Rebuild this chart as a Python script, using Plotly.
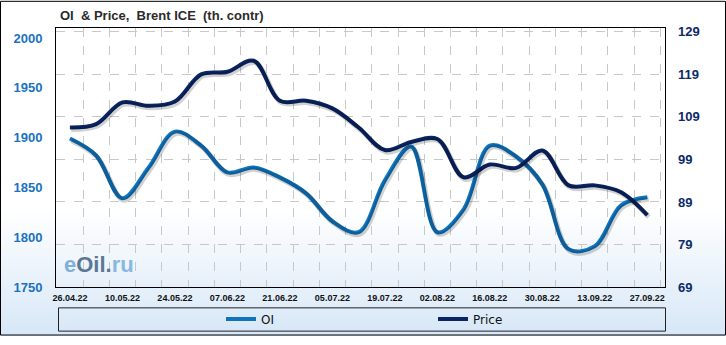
import plotly.graph_objects as go

# ---- data ----
dates = ["2022-04-26", "2022-05-03", "2022-05-10", "2022-05-17", "2022-05-24", "2022-05-31",
         "2022-06-07", "2022-06-14", "2022-06-21", "2022-06-28", "2022-07-05", "2022-07-12",
         "2022-07-19", "2022-07-26", "2022-08-02", "2022-08-09", "2022-08-16", "2022-08-23",
         "2022-08-30", "2022-09-06", "2022-09-13", "2022-09-20", "2022-09-27"]
oi = [1899, 1882, 1839, 1870, 1906, 1892, 1865, 1870, 1860, 1844, 1816, 1805,
      1857, 1891, 1805, 1828, 1892, 1881, 1853, 1788, 1791, 1832, 1840]
price = [106.5, 107.3, 112.4, 111.6, 112.6, 119.0, 119.6, 122.2, 112.8, 112.8, 111.0, 106.5,
         101.2, 103.1, 103.8, 94.8, 97.8, 97.0, 101.1, 92.9, 92.9, 91.3, 85.9]
tick_dates = ["2022-04-26", "2022-05-10", "2022-05-24", "2022-06-07", "2022-06-21", "2022-07-05",
              "2022-07-19", "2022-08-02", "2022-08-16", "2022-08-30", "2022-09-13", "2022-09-27"]
tick_labels = ["26.04.22", "10.05.22", "24.05.22", "07.06.22", "21.06.22", "05.07.22",
               "19.07.22", "02.08.22", "16.08.22", "30.08.22", "13.09.22", "27.09.22"]
left_ticks = [1750, 1800, 1850, 1900, 1950, 2000]
right_ticks = [69, 79, 89, 99, 109, 119, 129]

OI_COLOR = "#0f74bd"
PRICE_COLOR = "#0a2564"
SHADOW = "rgba(0,0,0,0.18)"

W, H = 726, 345
ML, MR, MT, MB = 56, 61, 28, 50
PW, PH = W - ML - MR, H - MT - MB

X_RANGE = ["2022-04-22 07:00", "2022-10-01 17:00"]
X_RANGE_SH = ["2022-04-21 22:00", "2022-10-01 08:00"]   # shifted ~1.5 px for shadow
Y1_RANGE = [1750, 2010]
Y2_RANGE = [69, 129.9]
Y1_PX = (Y1_RANGE[1] - Y1_RANGE[0]) / PH
Y2_PX = (Y2_RANGE[1] - Y2_RANGE[0]) / PH
SH = 2.0  # shadow offset in px


def px_x(p):
    return (p - ML) / PW


def px_y(p):
    return (H - MB - p) / PH


fig = go.Figure()
# soft shadows drawn on offset overlay axes
fig.add_trace(go.Scatter(x=dates, y=oi, mode="lines", xaxis="x2", yaxis="y3",
                         line=dict(color=SHADOW, width=5, shape="spline", smoothing=1.0),
                         showlegend=False, hoverinfo="skip"))
fig.add_trace(go.Scatter(x=dates, y=price, mode="lines", xaxis="x2", yaxis="y4",
                         line=dict(color=SHADOW, width=5, shape="spline", smoothing=1.0),
                         showlegend=False, hoverinfo="skip"))
fig.add_trace(go.Scatter(x=dates, y=oi, name="OI", mode="lines",
                         line=dict(color=OI_COLOR, width=4, shape="spline", smoothing=1.0),
                         legend="legend"))
fig.add_trace(go.Scatter(x=dates, y=price, name="Price", mode="lines", yaxis="y2",
                         line=dict(color=PRICE_COLOR, width=4, shape="spline", smoothing=1.0),
                         legend="legend2"))

# background gradient (styling)
shapes = []
n = 30
y_start, y_end = 215, 345
for i in range(n):
    t = i / (n - 1)
    r = int(255 + (216 - 255) * t)
    g = int(255 + (232 - 255) * t)
    b = int(255 + (248 - 255) * t)
    y0 = y_start + (y_end - y_start) * i / n
    y1 = y_start + (y_end - y_start) * (i + 1) / n + 0.5
    shapes.append(dict(type="rect", xref="paper", yref="paper", layer="below",
                       x0=px_x(0), x1=px_x(W), y0=px_y(y1), y1=px_y(y0),
                       line=dict(width=0), fillcolor=f"rgb({r},{g},{b})"))
# outer frame
shapes.append(dict(type="rect", xref="paper", yref="paper", layer="above",
                   x0=px_x(0.5), x1=px_x(W - 0.5), y0=px_y(H - 0.5), y1=px_y(0.5),
                   line=dict(color="#000", width=1)))
# legend box
shapes.append(dict(type="rect", xref="paper", yref="paper", layer="above",
                   x0=px_x(58.5), x1=px_x(665.5), y0=px_y(340.5), y1=px_y(316.5),
                   line=dict(color="#222", width=1)))

annotations = [
    dict(text="OI&nbsp; &amp; Price,&nbsp; Brent ICE&nbsp; (th. contr)", xref="paper", yref="paper",
         x=px_x(58), y=px_y(15), xanchor="left", yanchor="middle", showarrow=False,
         font=dict(family="Liberation Sans", size=13, color="#2b2b2b", weight="bold")),
    dict(text="<span style='color:#7fb0da'>e</span><span style='color:#5b7895'>Oil</span>"
              "<span style='color:#5b7895'>.</span><span style='color:#86b8e2'>ru</span>",
         xref="paper", yref="paper", x=px_x(62), y=px_y(272), xanchor="left", yanchor="middle",
         showarrow=False, font=dict(family="Liberation Sans", size=22, weight="bold")),
]

fig.update_layout(
    width=W, height=H, autosize=False,
    margin=dict(l=ML, r=MR, t=MT, b=MB),
    paper_bgcolor="white",
    plot_bgcolor="rgba(0,0,0,0)",
    shapes=shapes,
    annotations=annotations,
    xaxis=dict(
        type="date",
        range=X_RANGE,
        tickvals=tick_dates, ticktext=tick_labels,
        tickfont=dict(family="Liberation Sans", size=9, color="#111", weight="bold"),
        showgrid=False, zeroline=False,
        showline=True, linecolor="#000", linewidth=1, mirror=True,
        ticks="", ticklabelstandoff=2,
        minor=dict(tick0="2022-04-29 12:00", dtick=7 * 86400000, showgrid=True,
                   gridcolor="#c8c8c8", griddash="dash", gridwidth=1, ticks=""),
    ),
    xaxis2=dict(type="date", range=X_RANGE_SH, overlaying="x", visible=False),
    yaxis=dict(
        range=Y1_RANGE,
        tickvals=left_ticks,
        tickfont=dict(family="Liberation Sans", size=13, color="#1a72bf", weight="bold"),
        showgrid=False, zeroline=False,
        showline=True, linecolor="#000", linewidth=1, mirror=True,
        ticks="", ticklabelstandoff=10,
    ),
    yaxis2=dict(
        range=Y2_RANGE,
        tickvals=right_ticks,
        overlaying="y", side="right",
        tickfont=dict(family="Liberation Sans", size=13, color="#0c2a68", weight="bold"),
        showgrid=True, gridcolor="#c8c8c8", griddash="dash", gridwidth=1,
        zeroline=False, showline=False,
        ticks="", ticklabelstandoff=12,
    ),
    yaxis3=dict(range=[Y1_RANGE[0] + SH * Y1_PX, Y1_RANGE[1] + SH * Y1_PX],
                overlaying="y", visible=False),
    yaxis4=dict(range=[Y2_RANGE[0] + SH * Y2_PX, Y2_RANGE[1] + SH * Y2_PX],
                overlaying="y", visible=False),
    legend=dict(x=px_x(221), y=px_y(328), xanchor="left", yanchor="middle",
                orientation="h", bgcolor="rgba(0,0,0,0)", borderwidth=0,
                font=dict(family="DejaVu Sans", size=12, color="#111")),
    legend2=dict(x=px_x(433), y=px_y(328), xanchor="left", yanchor="middle",
                 orientation="h", bgcolor="rgba(0,0,0,0)", borderwidth=0,
                 font=dict(family="DejaVu Sans", size=12, color="#111")),
    showlegend=True,
)

fig.write_html("out.html")
